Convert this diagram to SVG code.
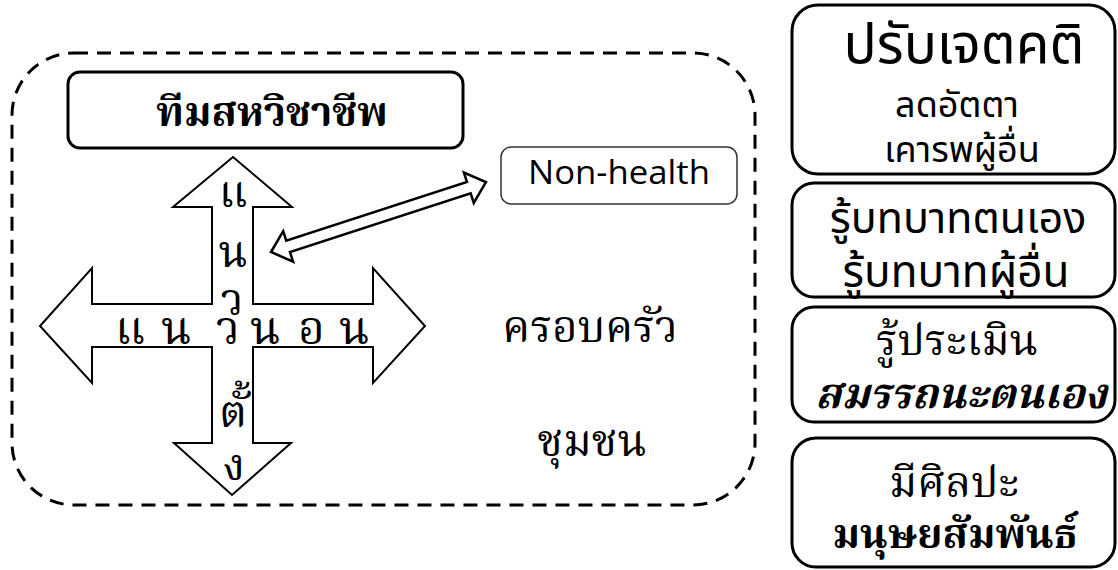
<svg xmlns="http://www.w3.org/2000/svg" width="1118" height="570" viewBox="0 0 1118 570">
  <style>
    .frame { fill: none; stroke: #000; stroke-width: 3; stroke-dasharray: 14 9; }
    .box { fill: #fff; stroke: #000; stroke-width: 3; }
    .thin { fill: #fff; stroke: #333; stroke-width: 1.5; }
    .arrow { fill: #fff; stroke: #000; stroke-width: 2; stroke-linejoin: miter; }
    .dbl { fill: #fff; stroke: #000; stroke-width: 2.5; stroke-linejoin: miter; }
    .loop { font-family: "Noto Serif Thai", "Norasi", "Kinnari", "Noto Sans Thai", serif; fill: #000; }
    .plain { font-family: "Noto Sans Thai", "Loma", "Noto Sans", sans-serif; fill: #000; }
    .latin { font-family: "Open Sans", "Noto Sans", sans-serif; fill: #000; }
    .mid { text-anchor: middle; }
  </style>

  <!-- dashed boundary around the team area -->
  <rect class="frame" x="12" y="53" width="743" height="452" rx="62" ry="62"/>

  <g id="team">
    <rect class="box" x="68" y="72" width="395" height="76" rx="12"/>
    <text class="loop mid" x="272" y="126" font-size="41" font-weight="bold">ทีมสหวิชาชีพ</text>
  </g>

  <g id="cross">
    <polygon class="arrow" points="233,157 292,207 253,207 253,304 373,304 373,268 425,326 373,383 373,347 253,347 253,443 291,443 232,495 174,443 212,443 212,347 92,347 92,383 40,326 92,268 92,304 212,304 212,207 173,207"/>
    <!-- vertical label -->
    <g class="loop mid" font-size="44">
      <text x="233" y="207">แ</text>
      <text x="233" y="267">น</text>
      <text x="232" y="315">ว</text>
      <text x="233" y="427">ตั้</text>
      <text x="234" y="480">ง</text>
    </g>
    <!-- horizontal label -->
    <text class="loop" font-size="46" y="344"><tspan x="115">แ</tspan><tspan x="161">น</tspan><tspan x="216">ว</tspan><tspan x="250">น</tspan><tspan x="298">อ</tspan><tspan x="339">น</tspan></text>
  </g>

  <g id="connectors">
    <polygon class="dbl" transform="translate(271,252) rotate(-18)" points="0,0 18,-16 18,-6 208,-6 208,-16 226,0 208,16 208,6 18,6 18,16"/>
  </g>

  <g id="non-health">
    <rect class="thin" x="501" y="147" width="236" height="57" rx="10"/>
    <text class="latin" x="528" y="184" font-size="32" textLength="182" lengthAdjust="spacingAndGlyphs">Non-health</text>
  </g>

  <g id="family">
    <text class="loop mid" x="590" y="342" font-size="44">ครอบครัว</text>
  </g>

  <g id="community">
    <text class="loop mid" x="592" y="456" font-size="44">ชุมชน</text>
  </g>

  <g id="attitude">
    <rect class="box" x="792" y="5" width="323" height="169" rx="26"/>
    <text class="plain mid" x="964" y="63" font-size="55">ปรับเจตคติ</text>
    <text class="plain mid" x="957" y="117" font-size="36">ลดอัตตา</text>
    <text class="plain mid" x="962" y="162" font-size="36">เคารพผู้อื่น</text>
  </g>

  <g id="roles">
    <rect class="box" x="792" y="183" width="323" height="114" rx="22"/>
    <text class="plain mid" x="958" y="233" font-size="43">รู้บทบาทตนเอง</text>
    <text class="plain mid" x="956" y="287" font-size="44">รู้บทบาทผู้อื่น</text>
  </g>

  <g id="competency">
    <rect class="box" x="792" y="307" width="323" height="115" rx="22"/>
    <text class="loop mid" x="957" y="355" font-size="43">รู้ประเมิน</text>
    <text class="loop mid" x="961" y="408" font-size="42" font-weight="bold" font-style="italic">สมรรถนะตนเอง</text>
  </g>

  <g id="relations">
    <rect class="box" x="792" y="438" width="323" height="129" rx="24"/>
    <text class="loop mid" x="954" y="497" font-size="43">มีศิลปะ</text>
    <text class="loop mid" x="955" y="548" font-size="41" font-weight="bold">มนุษยสัมพันธ์</text>
  </g>
</svg>
